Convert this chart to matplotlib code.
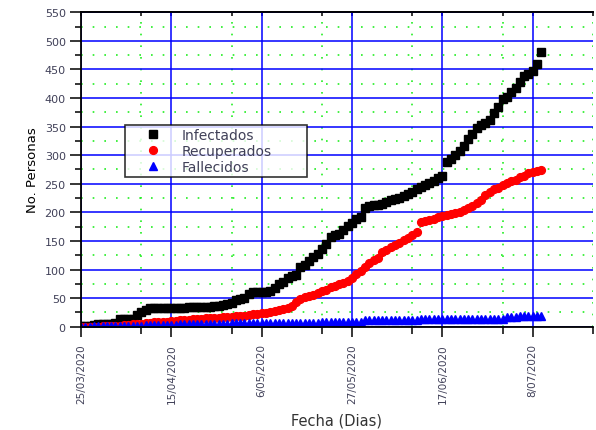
import numpy as np
import pandas as pd
import matplotlib
matplotlib.use('Agg')
import matplotlib.pyplot as plt

# Dias desde el 25/03/2020
dates = pd.date_range('2020-03-25', '2020-07-10')
dias = np.array((dates - dates[0]).days)

# Valores (uno por dia)
infectados = [1, 1, 2, 3,
              5, 5, 5, 5, 6,
              13, 13, 14, 14,
              20, 25, 30,
              32, 32, 32, 32, 33, 33, 33, 33, 33, 34, 34, 34,
              34, 35, 35, 36, 37, 38, 40, 42,
              47, 48, 50, 58, 60, 61, 61, 61, 62, 68, 75, 78, 86, 88, 90,
              105, 108, 115, 122, 127, 136, 145, 157, 160, 163, 170, 177, 182, 189, 192,
              208, 211, 212, 213, 215, 218, 221, 223, 225, 228, 232, 236, 240, 244, 247, 251, 255, 260, 264,
              288, 294, 300, 308, 316, 329, 337, 348, 352, 357, 362, 374, 385, 399, 402, 411, 418, 428,
              438, 442, 448, 460, 481]

recuperados = [0, 0, 0, 0, 0, 1, 1, 1, 2, 2,
               3, 3, 4, 4, 5, 6, 7, 8,
               8, 9, 9, 10, 10, 11, 12, 12, 13, 14,
               14, 15, 15, 16, 16, 17, 17, 17, 18, 18, 19,
               21, 22, 23, 24, 24, 25,
               28, 30, 31, 33, 36,
               44, 48, 52, 54, 56, 59, 62, 65, 69, 72, 74, 77, 80, 85, 92,
               98, 104, 112, 117, 120, 131, 135, 139, 143, 146, 152, 156, 161, 166,
               183, 185, 187, 189, 192, 194, 196, 197, 199,
               201, 204, 207, 211, 216, 222, 230, 236, 240, 243, 247, 251, 254, 257, 261, 264,
               268, 271, 272, 274]

fallecidos = [0, 0, 0, 1, 1, 1, 1, 1, 1, 1,
              2, 2, 2, 2, 2, 3, 3, 3, 3, 3, 3, 3, 3, 4, 4,
              4, 5, 5, 5, 5, 5, 5, 5, 5, 5, 6, 6, 6, 6, 6, 6, 6, 6, 6, 6, 7, 7, 7, 7, 7, 7,
              7, 7, 7, 7, 7, 8, 8, 8, 8, 8, 8, 8, 8, 8, 8,
              11, 11, 11, 11, 12, 12, 12, 12, 12, 12, 12, 12, 12, 13, 13, 13, 13, 13,
              14, 14, 14, 14, 14, 14, 14, 14, 14, 14, 14, 14, 14, 14, 14,
              17, 17, 17, 18, 18, 18, 18, 18, 18]

ticks_x = [0, 21, 42, 63, 84, 105]
ticks_x_minor = [14, 35, 56, 77, 98, 119]
etiquetas_x = ['25/03/2020', '15/04/2020', '6/05/2020', '27/05/2020', '17/06/2020', '8/07/2020']

plt.rcParams['font.family'] = ['DejaVu Sans']

fig = plt.figure(figsize=(5.96, 4.31), dpi=100)
ax = fig.add_axes([0.1359, 0.2397, 0.859, 0.7295])

ax.plot(dias, infectados, ls='none', marker='s', ms=5.2, color='black', label='Infectados')
ax.plot(dias, recuperados, ls='none', marker='o', ms=5.6, color='#ff0000', label='Recuperados')
ax.plot(dias, fallecidos, ls='none', marker='^', ms=6, color='#0000ff', label='Fallecidos')

ax.set_xlim(0, 119)
ax.set_ylim(0, 550)
ax.set_axisbelow(True)

ax.set_xticks(ticks_x)
ax.set_xticklabels(etiquetas_x, rotation=90, fontsize=7.5, color='#404058')
ax.set_xticks(ticks_x_minor, minor=True)
ax.set_yticks(np.arange(0, 551, 50))
ax.set_yticks(np.arange(25, 550, 50), minor=True)
ax.tick_params(axis='y', labelsize=8, labelcolor='#404058')

ax.tick_params(axis='x', which='major', direction='out', length=7, width=1.1, pad=5)
ax.tick_params(axis='x', which='minor', direction='out', length=5, width=1.1)
ax.tick_params(axis='y', which='major', direction='out', length=8, width=1.1, pad=3)
ax.tick_params(axis='y', which='minor', direction='out', length=4.5, width=1.1)

# ticks hacia dentro en el borde superior
secax = ax.secondary_xaxis('top')
secax.set_xticks(ticks_x)
secax.set_xticks(ticks_x_minor, minor=True)
secax.tick_params(which='both', direction='in', length=3, width=1.1, labeltop=False)
secax.spines['top'].set_linewidth(1.3)

ax.grid(True, which='major', color='#0000ff', lw=1.1, ls='-')
ax.grid(True, which='minor', color='#22ee22', lw=1.2, ls=(0, (1, 6)))

for s in ['left', 'bottom', 'top']:
    ax.spines[s].set_linewidth(1.3)
ax.spines['right'].set_visible(False)

ax.set_ylabel('No. Personas', fontsize=9.5, labelpad=4)
ax.set_xlabel('Fecha (Dias)', fontsize=10.5, color='#333333', labelpad=7)

leg = ax.legend(loc='upper left', bbox_to_anchor=(125/596, 0.45, 182/596, 1 - 126/431 - 0.45),
                bbox_transform=fig.transFigure, mode='expand', borderaxespad=0,
                fontsize=10, frameon=True, fancybox=False, borderpad=0.2, labelspacing=0.15,
                handlelength=3.6, handletextpad=0.3, numpoints=1, markerscale=1.0)
leg.get_frame().set_edgecolor('black')
leg.get_frame().set_linewidth(1.2)
for t in leg.get_texts():
    t.set_color('#404058')

fig.savefig('out.png', dpi=100)
